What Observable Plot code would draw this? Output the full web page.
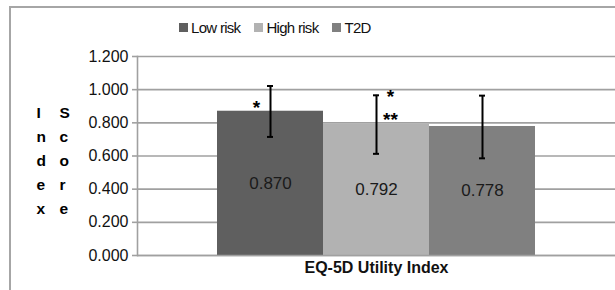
<!DOCTYPE html>
<html>
<head>
<meta charset="utf-8">
<script src="https://cdn.jsdelivr.net/npm/d3@7"></script>
<script src="https://cdn.jsdelivr.net/npm/@observablehq/plot@0.6"></script>
<style>
  html, body { margin: 0; padding: 0; background: #fff; overflow: hidden; }
  body { width: 615px; height: 290px; position: relative; font-family: "Liberation Sans", Arial, sans-serif; }
  #frame { position: absolute; left: 9px; top: 6px; width: 640px; height: 320px;
           border-top: 2px solid #a6a6a6; border-left: 2px solid #a6a6a6; box-sizing: border-box; }
  #legend { position: absolute; left: 179px; top: 19px; display: flex; gap: 14px; font-size: 15px;
            letter-spacing: -0.7px; color: #111; }
  #legend .item { display: flex; align-items: center; }
  #legend .sw { width: 9px; height: 9px; margin-right: 3px; display: inline-block; }
  #chart { position: absolute; left: 0; top: 40px; }
</style>
</head>
<body>
<div id="frame"></div>
<div id="legend"></div>
<div id="chart"></div>
<script>
const category = "EQ-5D Utility Index";
const series = ["Low risk", "High risk", "T2D"];
const values = [0.870, 0.792, 0.778];
const errLow = [0.715, 0.613, 0.586];
const errHigh = [1.022, 0.966, 0.964];
const colors = ["#5f5f5f", "#b2b2b2", "#808080"];
const yTicks = [0, 0.2, 0.4, 0.6, 0.8, 1.0, 1.2];
const yLabelLeft = "Index";
const yLabelRight = "Score";
const starSeries = ["Low risk", "High risk", "High risk"];
const starText = ["*", "*", "**"];
const starY = [0.89, 0.955, 0.815];

const data = series.map((s, i) => ({s, v: values[i], lo: errLow[i], hi: errHigh[i]}));
const stars = starSeries.map((s, i) => ({s, t: starText[i], y: starY[i]}));

// legend
const leg = document.getElementById("legend");
series.forEach((s, i) => {
  const it = document.createElement("span");
  it.className = "item";
  it.innerHTML = `<span class="sw" style="background:${colors[i]}"></span>${s}`;
  leg.appendChild(it);
});

const font = "Liberation Sans, Arial, sans-serif";
const chart = Plot.plot({
  width: 615,
  height: 250,
  marginLeft: 137,
  marginRight: 0,
  marginTop: 16,
  marginBottom: 35,
  style: {fontFamily: font, fontSize: "16px", color: "#111", background: "transparent"},
  x: {domain: series, paddingInner: 0, paddingOuter: 0.75, axis: null},
  y: {domain: [0, 1.2], ticks: yTicks},
  color: {domain: series, range: colors},
  marks: [
    Plot.gridY(yTicks, {stroke: "#a0a0a0", strokeOpacity: 1, strokeWidth: 1.6}),
    Plot.barY(data, {x: "s", y: "v", fill: "s"}),
    Plot.gridY([0], {stroke: "#a0a0a0", strokeOpacity: 1, strokeWidth: 1.6}),
    Plot.frame({anchor: "left", stroke: "#a0a0a0", strokeWidth: 1.6}),
    Plot.axisY(yTicks, {tickFormat: d3.format(".3f"), tickSize: 5, tickPadding: 4, stroke: "#a0a0a0",
      strokeWidth: 1.6, fill: "#111", fontSize: 16, label: null}),
    Plot.ruleX(data, {x: "s", y1: "lo", y2: "hi", stroke: "#000", strokeWidth: 2}),
    Plot.tickY(data, {x: "s", y: "lo", stroke: "#000", strokeWidth: 2, insetLeft: 50, insetRight: 50}),
    Plot.tickY(data, {x: "s", y: "hi", stroke: "#000", strokeWidth: 2, insetLeft: 50, insetRight: 50}),
    Plot.text(data, {x: "s", y: d => d.v / 2, text: d => d3.format(".3f")(d.v), fill: "#1a1a1a", fontSize: 17}),
    Plot.text(stars.filter(d => d.s === "Low risk"), {x: "s", y: "y", text: "t", dx: -14, fontSize: 19, fontWeight: "bold", fill: "#000"}),
    Plot.text(stars.filter(d => d.s === "High risk"), {x: "s", y: "y", text: "t", dx: 14, fontSize: 19, fontWeight: "bold", fill: "#000"}),
    Plot.text([category], {frameAnchor: "bottom", dy: 17, text: d => d, fontWeight: "bold", fontSize: 16,
      fill: "#111", letterSpacing: "-0.6px"}),
    Plot.text([yLabelLeft], {frameAnchor: "left", dx: -101, dy: 2, text: d => d.split("").join("\n"),
      lineHeight: 1.55, fontWeight: "bold", fontSize: 15.5, fill: "#000"}),
    Plot.text([yLabelRight], {frameAnchor: "left", dx: -78, dy: 2, text: d => d.split("").join("\n"),
      lineHeight: 1.55, fontWeight: "bold", fontSize: 15.5, fill: "#000"})
  ]
});
document.getElementById("chart").appendChild(chart);
</script>
</body>
</html>
